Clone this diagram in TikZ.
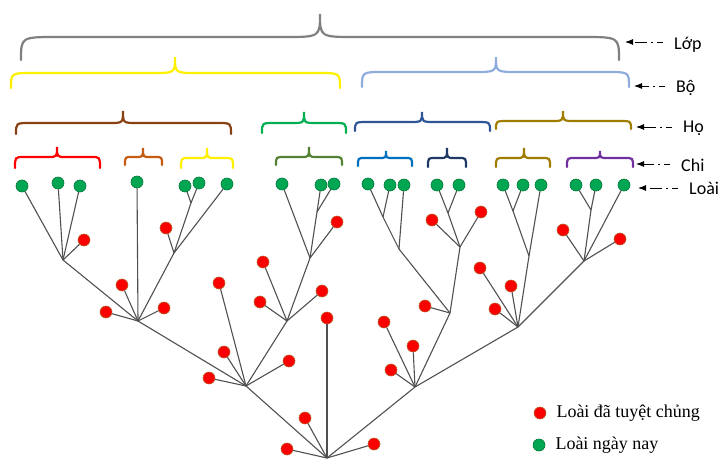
\documentclass[tikz,border=0pt]{standalone}
\usepackage{fontspec}
\setmainfont{Liberation Serif}
\newfontfamily\rankfont{Carlito}
\usepackage{tikz}
\usetikzlibrary{arrows.meta,positioning}
\definecolor{my_line}{RGB}{80, 80, 80}
\definecolor{my_red}{RGB}{250, 0, 0}
\definecolor{my_rbrown}{RGB}{185, 95, 45}
\definecolor{my_green}{RGB}{0, 166, 81}
\definecolor{my_dgreen}{RGB}{0, 120, 55}
\definecolor{br_gray}{RGB}{128, 128, 128}
\definecolor{br_yellow}{RGB}{255, 240, 0}
\definecolor{br_lblue}{RGB}{143, 172, 220}
\definecolor{br_brown}{RGB}{135, 65, 20}
\definecolor{br_green}{RGB}{0, 176, 80}
\definecolor{br_dblue}{RGB}{47, 85, 151}
\definecolor{br_olive}{RGB}{160, 125, 0}
\definecolor{br_red}{RGB}{255, 0, 0}
\definecolor{br_orange}{RGB}{197, 90, 17}
\definecolor{br_moss}{RGB}{84, 130, 53}
\definecolor{br_blue}{RGB}{0, 112, 192}
\definecolor{br_navy}{RGB}{31, 56, 100}
\definecolor{br_purple}{RGB}{112, 48, 160}
\tikzset{
  species/.style = {circle, inner sep=0pt, minimum size=12pt, line width=0.6pt},
  sp_live/.style = {species, fill=my_green, draw=my_dgreen},
  sp_dead/.style = {species, fill=my_red, draw=my_rbrown},
  branch/.style = {draw=my_line, line width=1.1pt},
  rank/.style = {anchor=west, inner sep=1pt, font=\rankfont\fontsize{18}{21}\selectfont},
  rank_arrow/.style = {-{Latex[length=8pt,width=6pt]}, line width=0.9pt,
    dash pattern=on 6pt off 4pt on 2pt off 4pt on 12pt, shorten <=10pt},
  legend/.style = {inner sep=1pt, font=\fontsize{18}{21}\selectfont}
}
% brace: colour, left x, peak x, right x, end y, middle y, peak y, hook width
\newcommand{\taxbrace}[8]{%
  \draw[#1, line width=2.2pt, line cap=round]
    (#2,#5) .. controls (#2,#6) .. ({#2+#8},#6) -- ({#3-#8},#6)
    .. controls (#3,#6) .. (#3,#7) .. controls (#3,#6) .. ({#3+#8},#6)
    -- ({#4-#8},#6) .. controls (#4,#6) .. (#4,#5);}

\begin{document}
\begin{tikzpicture}[x=1pt,y=-1pt]
  \useasboundingbox (0,0) rectangle (726,469);
  % Lop
  \taxbrace{br_gray}{21}{320}{619}{60}{37}{14}{36}
  % Bo
  \taxbrace{br_yellow}{11}{175}{340}{88}{73}{57}{22}
  \taxbrace{br_lblue}{362}{496}{629}{87}{72}{57}{22}
  % Ho
  \taxbrace{br_brown}{16}{123}{231}{134}{123}{111}{14}
  \taxbrace{br_green}{262}{304}{346}{133}{123}{112}{12}
  \taxbrace{br_dblue}{355}{422}{490}{131}{122}{112}{13}
  \taxbrace{br_olive}{496}{563}{631}{129}{121}{111}{12}
  % Chi
  \taxbrace{br_red}{15}{57}{100}{168}{157}{147}{9}
  \taxbrace{br_orange}{125}{143}{162}{165}{157}{148}{7}
  \taxbrace{br_yellow}{181}{207}{233}{168}{158}{148}{8}
  \taxbrace{br_moss}{276}{309}{342}{165}{157}{147}{8}
  \taxbrace{br_blue}{358}{386}{412}{166}{158}{151}{7}
  \taxbrace{br_navy}{428}{447}{466}{167}{158}{148}{7}
  \taxbrace{br_olive}{496}{524}{550}{167}{158}{148}{8}
  \taxbrace{br_purple}{567}{600}{633}{167}{158}{151}{8}

  % rank labels
  \node[rank] (lLop) at (673,45) {Lớp};
  \node[rank] (lBo) at (675,88) {Bộ};
  \node[rank] (lHo) at (682,128) {Họ};
  \node[rank] (lChi) at (680,165) {Chi};
  \node[rank] (lLoai) at (688,188) {Loài};
  \coordinate (aLop) at (625,42);
  \coordinate (aBo) at (634,86);
  \coordinate (aHo) at (636,127);
  \coordinate (aChi) at (636,164);
  \coordinate (aLoai) at (638,188);
  \foreach \l/\a in {lLop/aLop, lBo/aBo, lHo/aHo, lChi/aChi, lLoai/aLoai}
    \draw[rank_arrow] (\l.west |- \a) -- (\a);

  % forks of the tree
  \foreach \n/\x/\y in {j1/63/260, j2/138/321, j3/174/253, j4/246/386, j5/287/321,
      j6/310/258, k1/191/203, k2/317/212, root/327/458, b1/415/387, b2/450/313,
      b3/399/249, b4/460/247, b5/518/327, b6/529/256, b7/584/261, k3/383/217,
      k4/448/213, k5/513/211, k6/591/210}
    \coordinate (\n) at (\x,\y);

  % living species
  \foreach \n/\x/\y in {g1/22/186, g2/58/183, g3/80/186, g4/137/182, g5/185/186,
      g6/199/183, g7/227/184, g8/282/184, g9/321/185, g10/334/184, g11/368/184,
      g12/390/185, g13/404/185, g14/437/185, g15/459/185, g16/503/185,
      g17/523/185, g18/541/185, g19/576/185, g20/596/185, g21/624/185}
    \node[sp_live] (\n) at (\x,\y) {};

  % extinct species
  \foreach \n/\x/\y in {r1/84/240, r2/122/285, r3/106/312, r4/164/308, r5/166/228,
      r6/219/283, r7/224/352, r8/209/378, r9/289/361, r10/263/262, r11/260/302,
      r12/322/291, r13/337/222, r14/327/318, r15/305/418, r16/287/449,
      r17/374/444, r18/384/322, r19/413/346, r20/391/370, r21/425/306,
      r22/432/220, r23/481/212, r24/480/268, r25/511/286, r26/495/309,
      r27/563/230, r28/620/239}
    \node[sp_dead] (\n) at (\x,\y) {};

  \foreach \a/\b in {j1/g1, j1/g2, j1/g3, j1/r1, j2/j1, j2/g4, j2/j3, j2/r2, j2/r3,
      j2/r4, j3/k1, j3/g7, j3/r5, k1/g5, k1/g6, j4/j2, j4/j5, j4/r6, j4/r7, j4/r8,
      j4/r9, j5/j6, j5/r10, j5/r11, j5/r12, j6/g8, j6/k2, j6/r13, k2/g9, k2/g10,
      root/j4, root/b1, root/r14, root/r15, root/r16, root/r17, b1/b2, b1/b5,
      b1/r18, b1/r19, b1/r20, b2/b3, b2/b4, b2/r21, b3/k3, b3/g13, k3/g11, k3/g12,
      b4/k4, b4/r22, b4/r23, k4/g14, k4/g15, b5/b6, b5/b7, b5/r24, b5/r25, b5/r26,
      b6/k5, b6/g18, k5/g16, k5/g17, b7/k6, b7/g21, b7/r27, b7/r28, k6/g19, k6/g20}
    \draw[branch] (\a) -- (\b);

  % legend
  \node[sp_dead] (keyDead) at (540,413) {};
  \node[legend, right=9pt of keyDead] (txtDead) {Loài đã tuyệt chủng};
  \node[sp_live] (keyLive) at (539,445) {};
  \node[legend, right=9pt of keyLive] (txtLive) {Loài ngày nay};
\end{tikzpicture}
\end{document}
